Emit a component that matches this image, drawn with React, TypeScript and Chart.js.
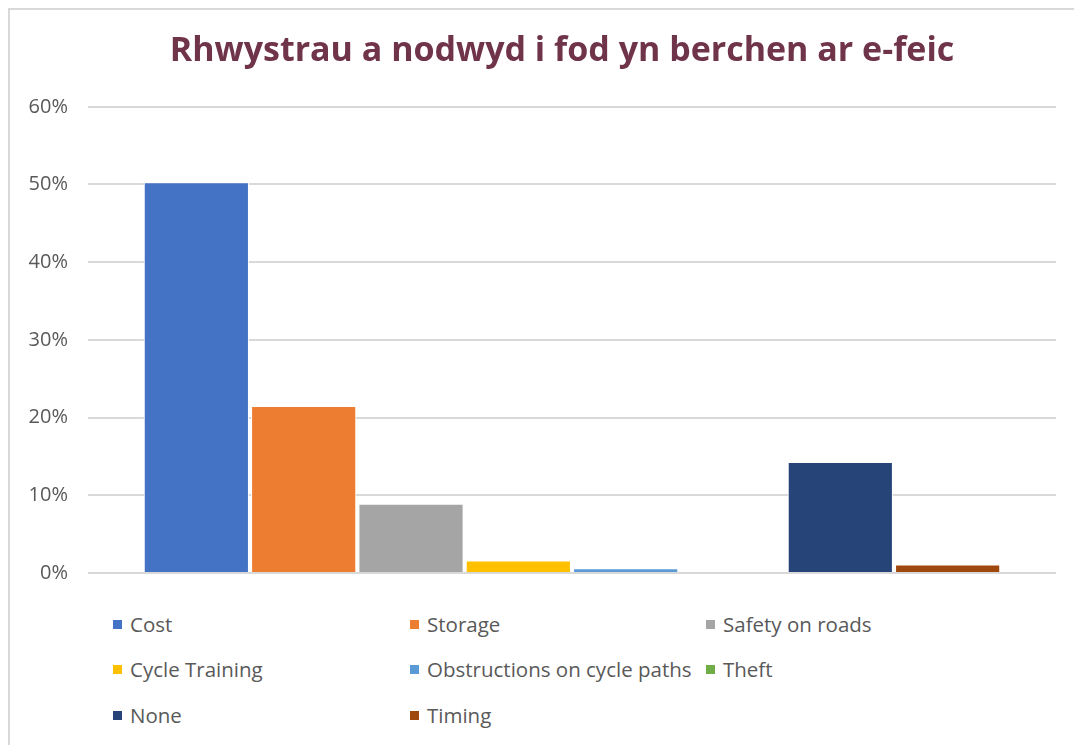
import React, { useEffect, useRef } from "react";
import { Chart, registerables } from "chart.js";

Chart.register(...registerables);

const categories = ["Rhwystrau"];
const seriesNames = [
  "Cost",
  "Storage",
  "Safety on roads",
  "Cycle Training",
  "Obstructions on cycle paths",
  "Theft",
  "None",
  "Timing",
];
const seriesValues = [50.3, 21.5, 8.9, 1.6, 0.6, 0, 14.3, 1.1];
const seriesColors = [
  "#4472C4",
  "#ED7D31",
  "#A5A5A5",
  "#FFC000",
  "#5B9BD5",
  "#70AD47",
  "#264478",
  "#9E480E",
];
const yTicks = [0, 10, 20, 30, 40, 50, 60];
const titleText = "Rhwystrau a nodwyd i fod yn berchen ar e-feic";

const legendCols = [105, 402, 698];
const legendRows = [616, 661, 707];

const titleShift = {
  id: "titleShift",
  afterLayout(chart: any) {
    if (chart.titleBlock) {
      chart.titleBlock.left = 60;
    }
  },
};

export default function App() {
  const canvasRef = useRef<HTMLCanvasElement | null>(null);

  useEffect(() => {
    const canvas = canvasRef.current;
    if (!canvas) return;
    const chart = new Chart(canvas, {
      type: "bar",
      data: {
        labels: categories,
        datasets: seriesNames.map((name, i) => ({
          label: name,
          data: [seriesValues[i]],
          backgroundColor: seriesColors[i],
          borderColor: "#ffffff",
          borderWidth: 1,
          categoryPercentage: 0.887,
          barPercentage: 0.98,
        })),
      },
      options: {
        animation: false,
        responsive: false,
        devicePixelRatio: 1,
        layout: { padding: { left: 0, right: 18, top: 0, bottom: 35 } },
        plugins: {
          legend: { display: false },
          tooltip: { enabled: false },
          title: {
            display: true,
            text: titleText,
            color: "#70344A",
            font: { family: "'Open Sans'", size: 34, weight: "bold", lineHeight: 1.2 },
            padding: { top: 23, bottom: 35 },
          },
        },
        scales: {
          x: { display: false },
          y: {
            min: 0,
            max: 60,
            afterBuildTicks: (scale: any) => {
              scale.ticks = yTicks.map((v) => ({ value: v }));
            },
            afterFit: (scale: any) => {
              scale.width = 80;
            },
            border: { display: false },
            grid: { color: "#d9d9d9", lineWidth: 2, drawTicks: false },
            ticks: {
              padding: 20,
              color: "#595959",
              font: { family: "'Open Sans'", size: 20 },
              callback: (v: any) => v + "%",
            },
          },
        },
      },
      plugins: [titleShift],
    });
    return () => chart.destroy();
  }, []);

  return (
    <div
      style={{
        position: "fixed",
        left: 8,
        top: 8,
        width: 1066,
        height: 737,
        overflow: "hidden",
        background: "#ffffff",
      }}
    >
      <div
        style={{
          position: "absolute",
          left: 0,
          top: 0,
          width: 1200,
          height: 900,
          border: "2px solid #d9d9d9",
          boxSizing: "border-box",
        }}
      />
      <canvas
        ref={canvasRef}
        width={1066}
        height={600}
        style={{ position: "absolute", left: 0, top: 0, width: 1066, height: 600 }}
      />
      {seriesNames.map((name, i) => (
        <div
          key={name}
          style={{
            position: "absolute",
            left: legendCols[i % 3],
            top: legendRows[Math.floor(i / 3)] - 12,
            height: 24,
            display: "flex",
            alignItems: "center",
            whiteSpace: "nowrap",
            fontFamily: "'Open Sans'",
            fontSize: 20.5,
            color: "#595959",
          }}
        >
          <span
            style={{
              display: "inline-block",
              width: 9,
              height: 9,
              background: seriesColors[i],
              marginRight: 8,
            }}
          />
          <span>{name}</span>
        </div>
      ))}
    </div>
  );
}
